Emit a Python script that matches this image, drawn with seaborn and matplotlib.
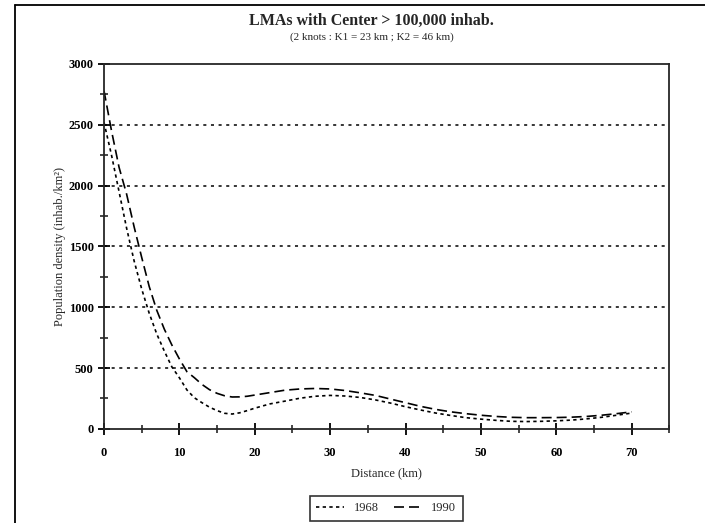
import pandas as pd
import numpy as np
import seaborn as sns
import matplotlib.pyplot as plt
from matplotlib.ticker import MultipleLocator
from matplotlib.lines import Line2D

# distances (km) and population densities
dist = [0, 1, 2, 3, 4, 5, 6, 7, 8, 9, 10, 11, 12, 13, 14, 15, 16, 17, 18, 19, 20,
        22, 24, 26, 28, 30, 32, 34, 36, 38, 40, 42, 44, 46, 48, 50,
        52, 54, 56, 58, 60, 62, 64, 66, 68, 70]

dens_1968 = [2520, 2250, 1950, 1650, 1380, 1150, 950, 780, 640, 510, 420, 320, 255, 215, 178, 150, 128, 122, 132, 150, 170,
             205, 228, 252, 268, 275, 270, 258, 238, 212, 182, 155, 130, 110, 92, 80,
             70, 62, 60, 62, 66, 72, 82, 95, 112, 130]

dens_1990 = [2780, 2450, 2150, 1930, 1660, 1410, 1170, 975, 820, 690, 575, 470, 420, 365, 322, 292, 272, 262, 263, 268, 278,
             298, 318, 328, 332, 328, 315, 296, 275, 245, 215, 185, 160, 140, 125, 112,
             102, 95, 92, 92, 93, 96, 102, 112, 125, 140]

years = ["1968", "1990"]

data = pd.DataFrame({
    "distance": dist * 2,
    "density": dens_1968 + dens_1990,
    "year": [years[0]] * len(dist) + [years[1]] * len(dist),
})

sns.set_style("ticks")
plt.rcParams["font.family"] = ["Liberation Serif", "DejaVu Serif"]
plt.rcParams["axes.linewidth"] = 1.3

fig = plt.figure(figsize=(7.05, 5.23), dpi=100)
ax = fig.add_axes([0.1475, 0.18, 0.802, 0.6977])

sns.lineplot(data=data, x="distance", y="density", hue="year", style="year",
             palette=["black", "black"], dashes={"1968": (2, 2), "1990": (6, 3)},
             linewidth=1.2, legend=False, ax=ax)

ax.set_xlim(0, 75)
ax.set_ylim(0, 3000)
ax.xaxis.set_minor_locator(MultipleLocator(5))
ax.yaxis.set_major_locator(MultipleLocator(500))
ax.yaxis.set_minor_locator(MultipleLocator(250))
ax.set_xticks(range(0, 71, 10))
ax.tick_params(which="major", direction="inout", length=8, width=1.3,
               labelsize=9, colors="black")
ax.tick_params(axis="x", which="major", pad=9)
ax.tick_params(which="minor", direction="inout", length=6, width=1.2)
for lab in ax.get_xticklabels() + ax.get_yticklabels():
    lab.set_fontweight("bold")

# dotted horizontal gridlines
for yv in [500, 1000, 1500, 2000, 2500]:
    ax.axhline(yv, color="black", linestyle=(0, (2, 3)), linewidth=1.1, zorder=0)

ax.set_xlabel("Distance (km)", fontsize=9, labelpad=6)
ax.set_ylabel("Population density (inhab./km²)", fontsize=9, labelpad=2)

fig.text(0.527, 1 - 21 / 523, "LMAs with Center > 100,000 inhab.", ha="center", va="center",
         fontsize=11.5, fontweight="bold")
fig.text(0.527, 1 - 37 / 523, "(2 knots : K1 = 23 km ; K2 = 46 km)", ha="center", va="center",
         fontsize=8)

handles = [Line2D([0], [0], color="black", linestyle=(0, (2, 2)), linewidth=1.2),
           Line2D([0], [0], color="black", linestyle=(0, (6, 3)), linewidth=1.2)]
leg = fig.legend(handles, years, loc="center", bbox_to_anchor=(0.548, 0.028), ncol=2,
                 frameon=True, fancybox=False, fontsize=9, handlelength=2.2,
                 columnspacing=1.2, borderpad=0.5)
leg.get_frame().set_edgecolor("black")
leg.get_frame().set_linewidth(1.2)

# scanned page border
fig.add_artist(Line2D([15 / 705, 15 / 705], [0, 1 - 5 / 523], color="black", linewidth=1.3,
                      transform=fig.transFigure))
fig.add_artist(Line2D([15 / 705, 1], [1 - 5 / 523, 1 - 5 / 523], color="black", linewidth=1.3,
                      transform=fig.transFigure))

fig.savefig("out.png", dpi=100)
